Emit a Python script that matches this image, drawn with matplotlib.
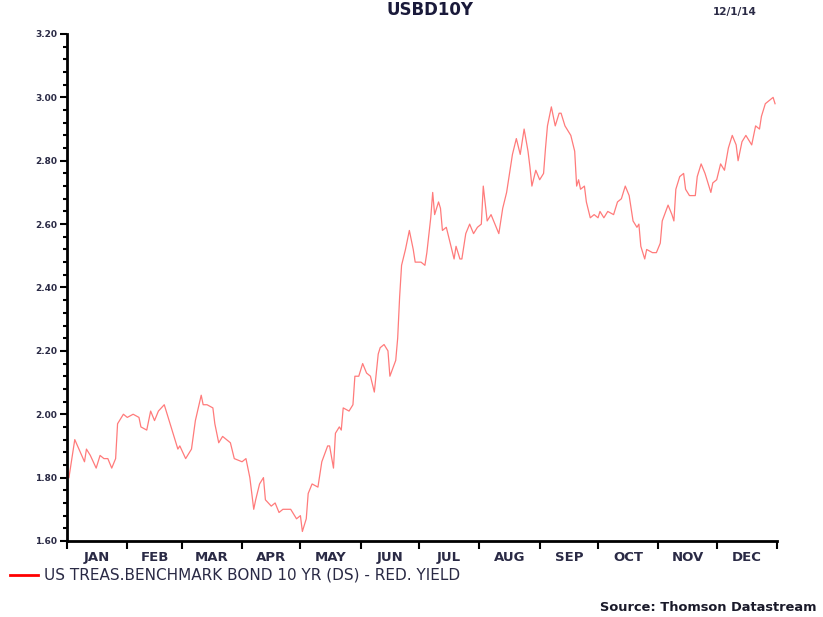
import numpy as np
import matplotlib
matplotlib.use("Agg")
import matplotlib.pyplot as plt
from matplotlib.ticker import MultipleLocator, FixedLocator, NullFormatter, FixedFormatter

# chart data
month_labels = ["JAN", "FEB", "MAR", "APR", "MAY", "JUN",
                "JUL", "AUG", "SEP", "OCT", "NOV", "DEC"]
month_days = [31, 28, 31, 30, 31, 30, 31, 31, 30, 31, 30, 31]

# day of year and 10y benchmark yield (%)
day = [1, 4, 9, 10, 12, 15, 17, 19, 21, 23, 25, 26, 29, 31, 34, 37, 38, 41, 43, 45,
       47, 50, 51, 54, 57, 58, 61, 64, 66, 69, 70, 72, 75, 76, 78, 80, 82, 84, 86, 90,
       92, 94, 96, 97, 99, 101, 102, 105, 107, 109, 111, 115, 118, 120, 121, 123, 124, 126, 129, 131,
       134, 135, 137, 138, 140, 141, 142, 145, 147, 148, 150, 152, 154, 156, 158, 160, 161, 163, 165, 166,
       169, 170, 171, 172, 174, 176, 178, 179, 182, 184, 185, 187, 188, 189, 191, 192, 193, 195, 197, 199,
       200, 202, 203, 205, 207, 209, 211, 213, 214, 216, 218, 220, 222, 224, 226, 227, 229, 231, 233, 235,
       237, 238, 239, 241, 243, 245, 246, 247, 249, 251, 253, 254, 256, 259, 261, 262, 263, 264, 266, 267,
       269, 271, 273, 274, 276, 278, 281, 283, 285, 287, 289, 291, 293, 294, 295, 297, 298, 301, 303, 305,
       306, 309, 311, 312, 313, 315, 317, 318, 320, 323, 324, 326, 328, 330, 331, 332, 334, 336, 338, 340,
       342, 344, 345, 347, 349, 350, 352, 354, 356, 357, 359, 361, 363, 364]
yield_pct = [1.80, 1.92, 1.85, 1.89, 1.87, 1.83, 1.87, 1.86, 1.86, 1.83, 1.86, 1.97, 2.00, 1.99, 2.00, 1.99, 1.96, 1.95, 2.01, 1.98,
             2.01, 2.03, 2.01, 1.95, 1.89, 1.90, 1.86, 1.89, 1.98, 2.06, 2.03, 2.03, 2.02, 1.97, 1.91, 1.93, 1.92, 1.91, 1.86, 1.85,
             1.86, 1.80, 1.70, 1.73, 1.78, 1.80, 1.73, 1.71, 1.72, 1.69, 1.70, 1.70, 1.67, 1.68, 1.63, 1.67, 1.75, 1.78, 1.77, 1.85,
             1.90, 1.90, 1.83, 1.94, 1.96, 1.95, 2.02, 2.01, 2.03, 2.12, 2.12, 2.16, 2.13, 2.12, 2.07, 2.19, 2.21, 2.22, 2.20, 2.12,
             2.17, 2.24, 2.37, 2.47, 2.52, 2.58, 2.52, 2.48, 2.48, 2.47, 2.51, 2.62, 2.70, 2.63, 2.67, 2.65, 2.58, 2.59, 2.54, 2.49,
             2.53, 2.49, 2.49, 2.57, 2.60, 2.57, 2.59, 2.60, 2.72, 2.61, 2.63, 2.60, 2.57, 2.65, 2.70, 2.74, 2.82, 2.87, 2.82, 2.90,
             2.83, 2.78, 2.72, 2.77, 2.74, 2.76, 2.84, 2.91, 2.97, 2.91, 2.95, 2.95, 2.91, 2.88, 2.83, 2.72, 2.74, 2.71, 2.72, 2.67,
             2.62, 2.63, 2.62, 2.64, 2.62, 2.64, 2.63, 2.67, 2.68, 2.72, 2.69, 2.61, 2.59, 2.60, 2.53, 2.49, 2.52, 2.51, 2.51, 2.54,
             2.61, 2.66, 2.63, 2.61, 2.71, 2.75, 2.76, 2.71, 2.69, 2.69, 2.75, 2.79, 2.76, 2.72, 2.70, 2.73, 2.74, 2.79, 2.77, 2.84,
             2.88, 2.85, 2.80, 2.86, 2.88, 2.87, 2.85, 2.91, 2.90, 2.94, 2.98, 2.99, 3.00, 2.98]

title = "USBD10Y"
date_stamp = "12/1/14"
series_label = "US TREAS.BENCHMARK BOND 10 YR (DS) - RED. YIELD"
source_text = "Source: Thomson Datastream"

month_edges = np.cumsum([0] + month_days)
month_mids = (month_edges[:-1] + month_edges[1:]) / 2.0

fig = plt.figure(figsize=(8.23, 6.17), dpi=100)
ax = fig.add_axes([0.0814, 0.1232, 0.8627, 0.8217])

ax.plot(day, yield_pct, color="#ff5a5a", lw=0.9, alpha=0.8)

ax.set_xlim(0, 365)
ax.set_ylim(1.6, 3.2)

for s in ["top", "right"]:
    ax.spines[s].set_visible(False)
ax.spines["left"].set_linewidth(2)
ax.spines["bottom"].set_linewidth(2)

# y axis: labels every 0.20, small ticks every 0.04
ax.yaxis.set_major_locator(MultipleLocator(0.2))
ax.yaxis.set_minor_locator(MultipleLocator(0.04))
ax.yaxis.set_major_formatter(plt.FormatStrFormatter("%.2f"))
ax.tick_params(axis="y", which="major", direction="out", length=5, width=1.5,
               labelsize=6.5, labelcolor="#2a2a45", pad=2)
ax.tick_params(axis="y", which="minor", direction="out", length=3, width=1.5)
for lbl in ax.get_yticklabels():
    lbl.set_fontweight("bold")

# x axis: ticks at month edges, labels in the middle of each month
ax.xaxis.set_major_locator(FixedLocator(month_edges))
ax.xaxis.set_major_formatter(NullFormatter())
ax.xaxis.set_minor_locator(FixedLocator(month_mids))
ax.xaxis.set_minor_formatter(FixedFormatter(month_labels))
ax.tick_params(axis="x", which="major", direction="out", length=6, width=1.5)
ax.tick_params(axis="x", which="minor", length=0, pad=7, labelsize=9.5, labelcolor="#2a2a45")
for lbl in ax.get_xticklabels(minor=True):
    lbl.set_fontweight("bold")

# header texts
fig.text(0.522, 0.999, title, ha="center", va="top", fontsize=12, fontweight="bold",
         color="#1a1a3a")
fig.text(0.893, 0.980, date_stamp, ha="center", va="center", fontsize=7.5, fontweight="bold",
         color="#2a2a45")

# legend row
fig.add_artist(plt.Line2D([0.012, 0.046], [0.068, 0.068], color="red", lw=2,
                          transform=fig.transFigure))
fig.text(0.054, 0.068, series_label, ha="left", va="center", fontsize=11,
         color="#2a2a45")

fig.text(0.729, 0.016, source_text, ha="left", va="center", fontsize=9.4, fontweight="bold",
         color="#1a1a2a")

fig.savefig("out.png", dpi=100)
